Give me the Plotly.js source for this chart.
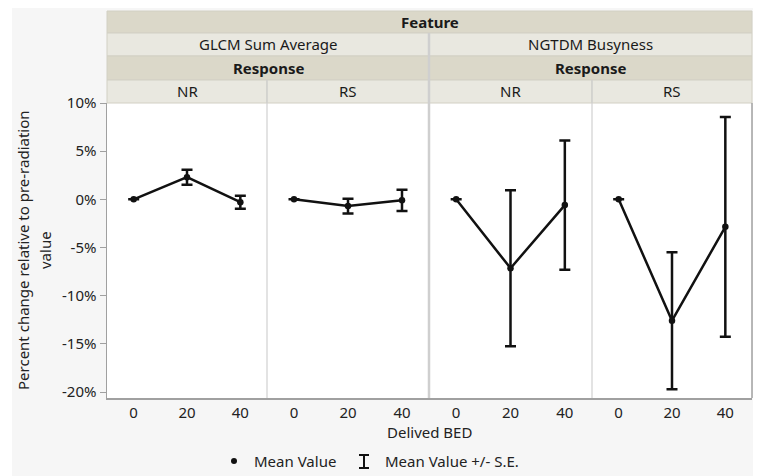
<!DOCTYPE html>
<html>
<head>
<meta charset="utf-8">
<script src="https://cdn.plot.ly/plotly-3.0.1.min.js"></script>
<style>html,body{margin:0;padding:0;background:#fff;}#chart{width:757px;height:476px;}</style>
</head>
<body>
<div id="chart"></div>
<script>
// ---- data ----
var bed = [0, 20, 40];
var glcmNRMean = [0, 2.3, -0.3];
var glcmNRSE   = [0, 0.78, 0.67];
var glcmRSMean = [0, -0.7, -0.1];
var glcmRSSE   = [0, 0.76, 1.1];
var ngtdmNRMean = [0, -7.15, -0.6];
var ngtdmNRSE   = [0, 8.1, 6.7];
var ngtdmRSMean = [0, -12.6, -2.85];
var ngtdmRSSE   = [0, 7.1, 11.4];
var yTickVals = [10, 5, 0, -5, -10, -15, -20];
var yTickText = ["10%", "5%", "0%", "-5%", "-10%", "-15%", "-20%"];
var featureLabels = ["GLCM Sum Average", "NGTDM Busyness"];
var responseLabels = ["NR", "RS"];

// ---- layout helpers (pixel -> paper) ----
var L = 107, R = 752, T = 103, B = 398;
function px(x) { return (x - L) / (R - L); }
function py(y) { return (B - y) / (B - T); }
var FONT = "Noto Sans, Open Sans, sans-serif";
var FS = 15;
var bounds = [107, 267, 429, 592, 752];

var series = [
  [glcmNRMean, glcmNRSE], [glcmRSMean, glcmRSSE],
  [ngtdmNRMean, ngtdmNRSE], [ngtdmRSMean, ngtdmRSSE]
];
var traces = series.map(function (s, i) {
  return {
    type: "scatter", mode: "lines+markers",
    x: bed, y: s[0],
    xaxis: i === 0 ? "x" : "x" + (i + 1), yaxis: "y",
    line: { color: "#111", width: 2.5 },
    marker: { color: "#111", size: 6.5 },
    error_y: { type: "data", array: s[1], visible: true, color: "#111", thickness: 2.5, width: 5.5 },
    showlegend: false, hoverinfo: "x+y"
  };
});

var layout = {
  width: 757, height: 476,
  margin: { l: L, r: 757 - R, t: T, b: 476 - B, pad: 0 },
  paper_bgcolor: "#f6f6f6", plot_bgcolor: "#ffffff",
  font: { family: FONT, size: FS, color: "#222" },
  showlegend: false,
  yaxis: {
    range: [-20.62, 10], tickvals: yTickVals, ticktext: yTickText,
    ticks: "outside", ticklen: 6, tickcolor: "#a0a0a0", tickwidth: 1,
    showline: true, linecolor: "#a0a0a0", linewidth: 1.5,
    showgrid: false, zeroline: false, fixedrange: true,
    tickfont: { family: FONT, size: FS, color: "#222" }
  },
  shapes: [], annotations: []
};
for (var i = 0; i < 4; i++) {
  var key = i === 0 ? "xaxis" : "xaxis" + (i + 1);
  layout[key] = {
    domain: [px(bounds[i]), px(bounds[i + 1])], anchor: "y",
    range: [-10, 50], tickvals: bed, ticks: "",
    showline: true, linecolor: "#a0a0a0", linewidth: 1.5,
    showgrid: false, zeroline: false, fixedrange: true,
    tickfont: { family: FONT, size: FS, color: "#222" }
  };
}

// white outer margins
function rectPx(x0, y0, x1, y1, fill, lineColor, layer) {
  layout.shapes.push({ type: "rect", xref: "paper", yref: "paper",
    x0: px(x0), x1: px(x1), y0: py(y0), y1: py(y1),
    fillcolor: fill, line: { color: lineColor || fill, width: lineColor ? 1 : 0 }, layer: layer || "above" });
}
rectPx(0, 0, 757, 8, "#ffffff", null, "below");
rectPx(0, 0, 12, 476, "#ffffff", null, "below");
rectPx(753, 0, 757, 476, "#ffffff", null, "below");

var DARK = "#dbd8c9", LIGHT = "#e9e8e0", EDGE = "#d2d0c4";
function strip(x0, x1, y0, y1, fill, text, bold) {
  rectPx(x0, y0, x1, y1, fill, EDGE);
  layout.annotations.push({ xref: "paper", yref: "paper",
    x: (px(x0) + px(x1)) / 2, y: (py(y0) + py(y1)) / 2,
    xanchor: "center", yanchor: "middle", showarrow: false,
    text: bold ? "<b>" + text + "</b>" : text,
    font: { family: FONT, size: FS, color: "#1a1a1a" } });
}
strip(107, 752, 11, 33, DARK, "Feature", true);
strip(107, 429, 33, 56, LIGHT, featureLabels[0], false);
strip(429, 752, 33, 56, LIGHT, featureLabels[1], false);
strip(107, 429, 56, 80, DARK, "Response", true);
strip(429, 752, 56, 80, DARK, "Response", true);
strip(107, 267, 80, 103, LIGHT, responseLabels[0], false);
strip(267, 429, 80, 103, LIGHT, responseLabels[1], false);
strip(429, 592, 80, 103, LIGHT, responseLabels[0], false);
strip(592, 752, 80, 103, LIGHT, responseLabels[1], false);

function linePx(x0, y0, x1, y1, color, w) {
  layout.shapes.push({ type: "line", xref: "paper", yref: "paper",
    x0: px(x0), x1: px(x1), y0: py(y0), y1: py(y1),
    line: { color: color, width: w }, layer: "above" });
}
linePx(267, 80, 267, 398, "#d0d0d0", 1.2);
linePx(592, 80, 592, 398, "#d0d0d0", 1.2);
linePx(429, 33, 429, 398, "#cfcfcf", 2.5);
linePx(752, 103, 752, 398, "#a0a0a0", 1.5);

// axis titles
function textPx(x, y, text, xanchor, angle) {
  layout.annotations.push({ xref: "paper", yref: "paper", x: px(x), y: py(y),
    xanchor: xanchor || "center", yanchor: "middle", showarrow: false,
    textangle: angle || 0, text: text,
    font: { family: FONT, size: FS, color: "#222" } });
}
textPx(429, 432, "Delived BED");
textPx(23, 250, "Percent change relative to pre-radiation", "center", -90);
textPx(45, 250, "value", "center", -90);

// legend
layout.shapes.push({ type: "circle", xref: "paper", yref: "paper",
  x0: px(231), x1: px(237), y0: py(458), y1: py(464),
  fillcolor: "#111", line: { color: "#111", width: 0 }, layer: "above" });
linePx(364, 455, 364, 468, "#111", 2);
linePx(359, 455, 369, 455, "#111", 2);
linePx(359, 468, 369, 468, "#111", 2);
textPx(252, 461, "Mean Value", "left");
textPx(383, 461, "Mean Value +/- S.E.", "left");

Plotly.newPlot("chart", traces, layout, { displayModeBar: false, staticPlot: true });
</script>
</body>
</html>
